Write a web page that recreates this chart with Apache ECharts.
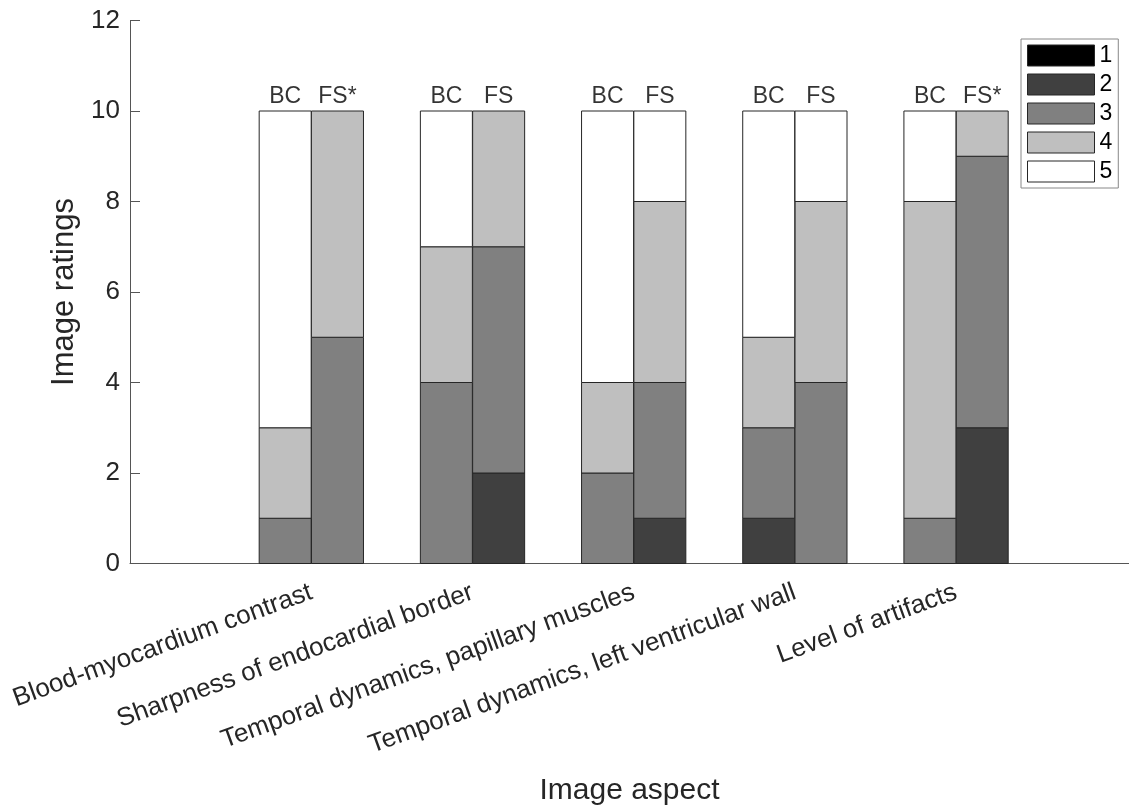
<!DOCTYPE html>
<html>
<head>
<meta charset="utf-8">
<script src="https://cdn.jsdelivr.net/npm/echarts@6/dist/echarts.min.js"></script>
<style>html,body{margin:0;padding:0;background:#fff}#chart{width:1129px;height:809px}</style>
</head>
<body>
<div id="chart"></div>
<script>
// Data
const aspects = ['Blood-myocardium contrast', 'Sharpness of endocardial border', 'Temporal dynamics, papillary muscles', 'Temporal dynamics, left ventricular wall', 'Level of artifacts'];
const barLabels = ['BC', 'FS*', 'BC', 'FS', 'BC', 'FS', 'BC', 'FS', 'BC', 'FS*'];
const ratingNames = ['1', '2', '3', '4', '5'];
// counts per bar (BC, FS for each aspect)
const rating1 = [0, 0, 0, 0, 0, 0, 0, 0, 0, 0];
const rating2 = [0, 0, 0, 2, 0, 1, 1, 0, 0, 3];
const rating3 = [1, 5, 4, 5, 2, 3, 2, 4, 1, 6];
const rating4 = [2, 5, 3, 3, 2, 4, 2, 4, 7, 1];
const rating5 = [7, 0, 3, 0, 6, 2, 5, 2, 2, 0];
const yTicks = [0, 2, 4, 6, 8, 10, 12];

const colors = ['#000000', '#404040', '#808080', '#bfbfbf', '#ffffff'];
const FONT = 'Liberation Sans, Arial, sans-serif';
const OFF = 0.1622;   // half-bar offset in axis units
const BAR_W = 52;     // px
const barX = barLabels.map((_, i) => Math.floor(i / 2) + 1 + (i % 2 === 0 ? -OFF : OFF));

const allRatings = [rating1, rating2, rating3, rating4, rating5];
const bases = barX.map(() => 0);
const series = allRatings.map((arr, k) => {
  const data = [];
  arr.forEach((v, i) => {
    if (v > 0) data.push([barX[i], bases[i], bases[i] + v]);
    bases[i] += v;
  });
  return {
    name: ratingNames[k],
    type: 'custom',
    encode: { x: 0, y: [1, 2] },
    itemStyle: { color: colors[k], borderColor: '#262626', borderWidth: 1 },
    data: data,
    renderItem: (params, api) => {
      const x = api.value(0);
      const p0 = api.coord([x, api.value(1)]);
      const p1 = api.coord([x, api.value(2)]);
      return {
        type: 'rect',
        shape: { x: p0[0] - BAR_W / 2, y: p1[1], width: BAR_W, height: p0[1] - p1[1] },
        style: { fill: colors[k], stroke: '#262626', lineWidth: 1 }
      };
    },
    silent: true,
    animation: false
  };
});
const totals = bases.slice();
series.push({
  type: 'scatter',
  symbolSize: 0,
  data: barX.map((x, i) => [x, totals[i]]),
  label: {
    show: true, position: 'top', distance: 3,
    formatter: p => barLabels[p.dataIndex],
    fontFamily: FONT, fontSize: 23, color: '#000'
  },
  silent: true,
  animation: false
});

const chart = echarts.init(document.getElementById('chart'));
chart.setOption({
  animation: false,
  backgroundColor: '#fff',
  grid: { left: 130, top: 20.5, right: 0, bottom: 245.5, containLabel: false, outerBoundsMode: 'none' },
  legend: {
    data: ratingNames,
    orient: 'vertical',
    left: 1021, top: 39,
    itemWidth: 67, itemHeight: 21, itemGap: 6,
    padding: [5, 6, 5, 6],
    borderColor: '#888', borderWidth: 1, backgroundColor: '#fff',
    icon: 'rect',
    itemStyle: { borderColor: '#262626', borderWidth: 1 },
    textStyle: { fontFamily: FONT, fontSize: 23, color: '#000' },
    selectedMode: false
  },
  xAxis: {
    type: 'value',
    min: -0.125, max: 6.073,
    name: 'Image aspect',
    nameLocation: 'middle',
    nameGap: 212,
    nameTextStyle: { fontFamily: FONT, fontSize: 30, color: '#262626' },
    axisLine: { show: true, onZero: false, lineStyle: { color: '#555', width: 1 } },
    axisTick: { show: false },
    splitLine: { show: false },
    axisLabel: {
      customValues: [1, 2, 3, 4, 5],
      rotate: 20,
      margin: 28,
      fontFamily: FONT, fontSize: 26, color: '#262626',
      formatter: v => aspects[Math.round(v) - 1] || ''
    }
  },
  yAxis: {
    type: 'value',
    min: yTicks[0], max: yTicks[yTicks.length - 1], interval: 2,
    name: 'Image ratings',
    nameLocation: 'middle',
    nameGap: 49,
    nameTextStyle: { fontFamily: FONT, fontSize: 31, color: '#262626' },
    axisLine: { show: true, onZero: false, lineStyle: { color: '#555', width: 1 } },
    axisTick: { show: true, inside: true, length: 10, lineStyle: { color: '#555' } },
    splitLine: { show: false },
    axisLabel: { margin: 10, fontFamily: FONT, fontSize: 26, color: '#262626' }
  },
  series: series
});
</script>
</body>
</html>
